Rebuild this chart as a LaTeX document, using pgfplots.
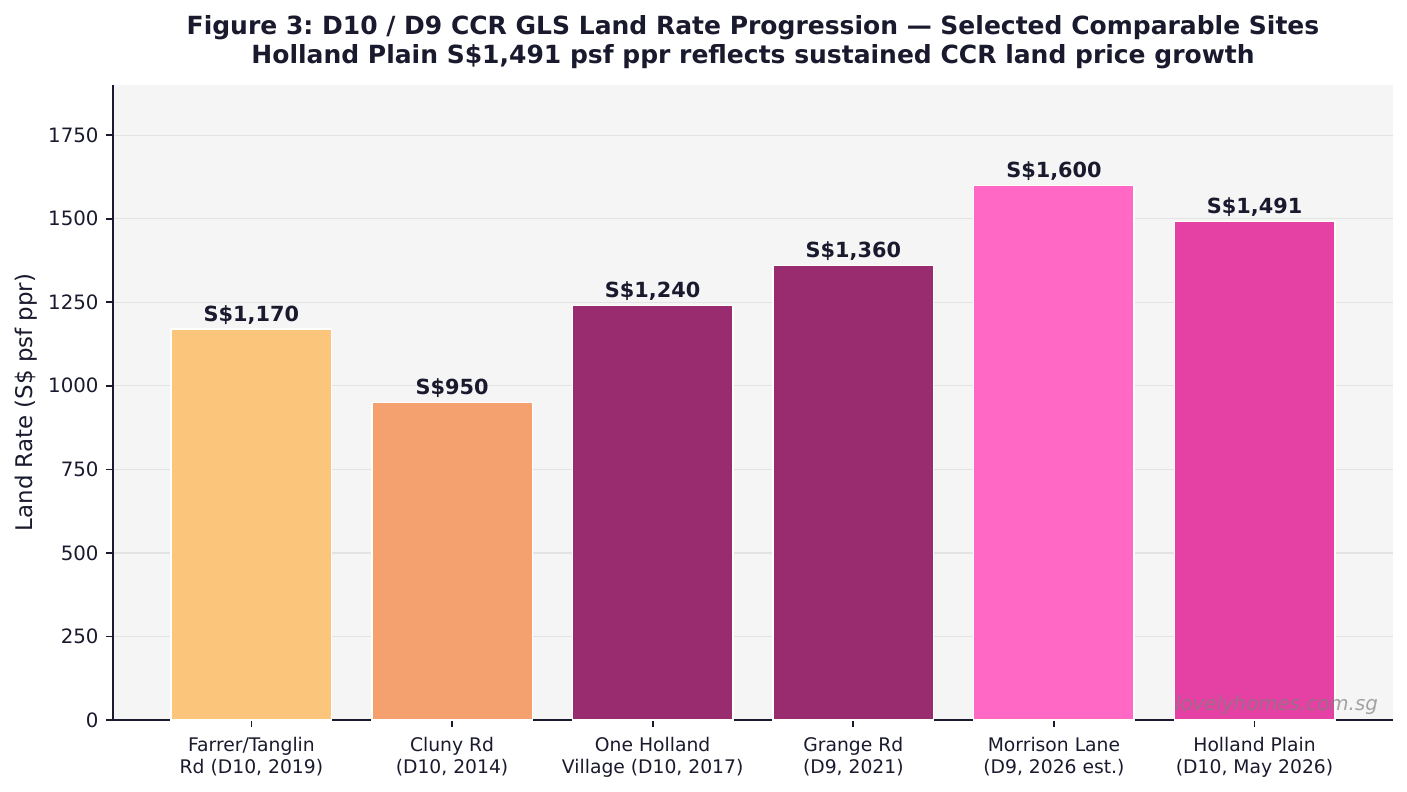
\documentclass[border=0pt]{standalone}
\usepackage{pgfplots}
\pgfplotsset{compat=1.18}
\usepackage{fontspec}
\setmainfont{DejaVu Sans}
\frenchspacing

\definecolor{ink}{HTML}{1A1A2E}
\definecolor{panel}{HTML}{F5F5F5}
\definecolor{gridc}{HTML}{E3E3E3}
\definecolor{cFarrer}{HTML}{FCC57C}
\definecolor{cCluny}{HTML}{F4A16F}
\definecolor{cPlum}{HTML}{992B6F}
\definecolor{cMorrison}{HTML}{FF68C5}
\definecolor{cHolland}{HTML}{E541A4}

\begin{document}
\begin{tikzpicture}
\path[use as bounding box] (-54.24pt,-34.56pt) rectangle (621.12pt,345.6pt);
\begin{axis}[
  at={(0pt,0pt)}, anchor=south west,
  width=614.4pt, height=304.8pt, scale only axis,
  xmin=-0.69, xmax=5.69, ymin=0, ymax=1900,
  enlargelimits=false, clip=false,
  ybar, bar width=0.8, bar shift=0pt,
  axis background/.style={fill=panel},
  axis x line*=bottom, axis y line*=left,
  axis line style={-, draw=ink, line width=0.8pt},
  ymajorgrids, grid style={draw=gridc, line width=0.6pt},
  xtick={0,1,2,3,4,5},
  xticklabels={{Farrer/Tanglin\\Rd (D10, 2019)},
               {Cluny Rd\\(D10, 2014)},
               {One Holland\\Village (D10, 2017)},
               {Grange Rd\\(D9, 2021)},
               {Morrison Lane\\(D9, 2026 est.)},
               {Holland Plain\\(D10, May 2026)}},
  ytick={0,250,500,750,1000,1250,1500,1750},
  tick align=outside, major tick length=3.4pt,
  tick style={draw=ink, line width=0.8pt},
  /pgf/number format/assume math mode=true,
  x tick label style={font=\fontsize{9}{10.2}\selectfont, text=ink, align=center, yshift=-1.5pt},
  y tick label style={font=\fontsize{9.5}{11}\selectfont, text=ink,
                      /pgf/number format/1000 sep={}},
  ylabel={Land Rate (S\$ psf ppr)},
  ylabel style={font=\fontsize{11}{13}\selectfont, text=ink, yshift=-1.5pt},
  every axis plot/.append style={draw=white, line width=0.7pt},
  nodes near coords={S\$\pgfmathprintnumber{\pgfplotspointmeta}},
  every node near coord/.append style={
    font=\fontsize{10}{12}\selectfont\bfseries, text=ink,
    anchor=base, yshift=3.7pt,
    /pgf/number format/.cd, fixed, precision=0, 1000 sep={,}},
]
% GLS land rates, S$ psf ppr
\addplot[fill=cFarrer]   coordinates {(0,1170)};
\addplot[fill=cCluny]    coordinates {(1,950)};
\addplot[fill=cPlum]     coordinates {(2,1240)};
\addplot[fill=cPlum]     coordinates {(3,1360)};
\addplot[fill=cMorrison] coordinates {(4,1600)};
\addplot[fill=cHolland]  coordinates {(5,1491)};

\node[anchor=south east, font=\fontsize{9.5}{11}\selectfont\itshape,
      text=gray, text opacity=0.7, inner sep=0pt]
  at (rel axis cs:0.9885,0.0075) {lovelyhomes.com.sg};

\node[anchor=base, font=\fontsize{12}{14}\selectfont\bfseries, text=ink, yshift=24pt]
  at (rel axis cs:0.5,1) {Figure 3: D10 / D9 CCR GLS Land Rate Progression — Selected Comparable Sites};
\node[anchor=base, font=\fontsize{12}{14}\selectfont\bfseries, text=ink, yshift=10.5pt]
  at (rel axis cs:0.5,1) {Holland Plain S\$1,491 psf ppr reflects sustained CCR land price growth};
\end{axis}
\end{tikzpicture}
\end{document}
